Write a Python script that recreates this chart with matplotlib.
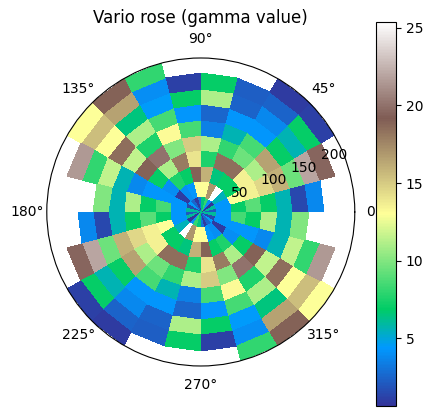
import numpy as np
import matplotlib
matplotlib.use("Agg")
import matplotlib.pyplot as plt

# lag-class edges (radial) and direction-class edges (degrees, half circle)
lag_edges = np.linspace(0, 237, 11)
dir_edges_half = np.arange(0, 181, 15)

# gamma values per direction class, from the innermost lag class outward
dir_000 = [2.0, 4.3, 7.0, 9.0, 7.0, 5.6, 1.5, 3.8]
dir_015 = [6.0, 4.3, 13.0, 13.5, 14.5, 16.0, 9.5, 22.0, 19.5]
dir_030 = [0.63, 5.5, 7.0, 13.5, 11.0, 16.5, 7.0, 5.6, 7.0, 1.2]
dir_045 = [4.0, 25.4, 7.0, 18.5, 9.5, 8.5, 4.3, 3.8, 2.4, 1.0]
dir_060 = [8.0, 17.0, 6.5, 18.5, 8.0, 5.6, 4.3, 2.4, 2.2]
dir_075 = [6.5, 13.0, 16.0, 7.5, 11.0, 3.5, 2.5, 11.0, 7.0]
dir_090 = [3.0, 13.0, 19.0, 14.0, 15.0, 8.5, 4.3, 7.0, 1.2]
dir_105 = [1.0, 4.3, 7.0, 18.0, 10.0, 13.2, 8.5, 4.5, 4.0, 8.0]
dir_120 = [2.5, 4.0, 7.5, 11.0, 20.0, 7.5, 11.0, 6.5, 16.5, 19.0]
dir_135 = [4.5, 1.0, 4.0, 7.0, 19.0, 11.5, 18.5, 13.0, 15.5, 13.0]
dir_150 = [1.5, 4.3, 4.3, 4.3, 3.8, 5.6, 11.5, 8.0, 21.5]
dir_165 = [6.0, 4.3, 8.5, 7.0, 11.0, 5.6, 10.0]

half = [dir_000, dir_015, dir_030, dir_045, dir_060, dir_075,
        dir_090, dir_105, dir_120, dir_135, dir_150, dir_165]

n_lag = len(lag_edges) - 1
grid = np.full((n_lag, len(half)), np.nan)
for j, vals in enumerate(half):
    grid[:len(vals), j] = vals
# variogram is point-symmetric: direction theta equals theta + 180
full = np.concatenate([grid, grid], axis=1)
full = np.ma.masked_invalid(full)

theta_edges = np.deg2rad(np.concatenate([dir_edges_half, dir_edges_half[1:] + 180]))

fig = plt.figure(figsize=(4.32, 4.16), dpi=100)
ax = fig.add_axes([0.1083, 0.1202, 0.713, 0.7404], projection="polar")
mesh = ax.pcolormesh(theta_edges, lag_edges, full, cmap="terrain")
ax.grid(False)
ax.set_title("Vario rose (gamma value)", fontsize=12)

cax = fig.add_axes([0.8704, 0.024, 0.0463, 0.924])
cb = fig.colorbar(mesh, cax=cax)

fig.savefig("out.png", dpi=100)
